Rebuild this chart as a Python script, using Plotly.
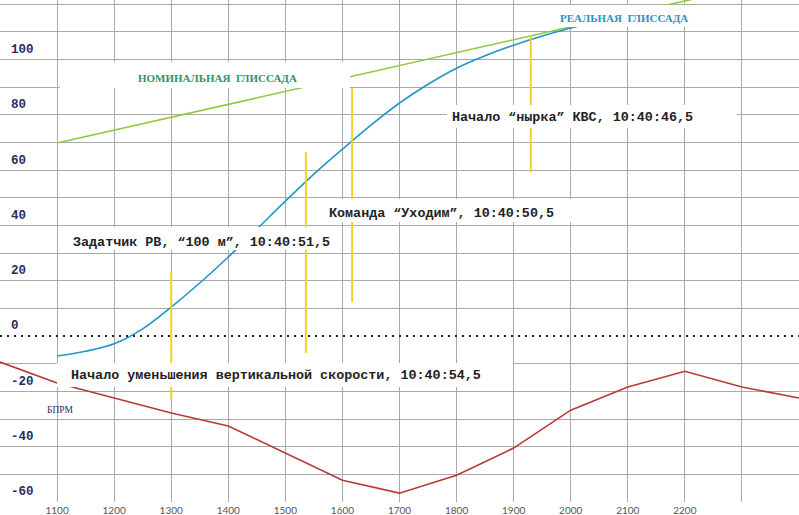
import plotly.graph_objects as go

# ---- data ----
distance = [1100, 1150, 1200, 1250, 1300, 1350, 1400, 1450, 1500, 1550, 1600,
            1650, 1700, 1750, 1800, 1850, 1900, 1950, 2000, 2050]
real_glide = [-7.2, -5.5, -2.8, 2.6, 10.5, 19.2, 28.6, 38.7, 48.8, 58.6, 67.6,
              76.3, 84.3, 91.1, 96.9, 101.4, 105.2, 108.5, 111.4, 113.9]

nominal_x = [1100, 2215]
nominal_y = [69.8, 121.9]

vs_x = [1000, 1100, 1200, 1300, 1400, 1500, 1600, 1700, 1800, 1900, 2000,
        2100, 2200, 2300, 2400]
vs_y = [-9.4, -17.0, -22.4, -27.8, -32.5, -42.3, -52.1, -56.8, -50.3, -40.5,
        -26.8, -18.4, -12.7, -18.4, -22.4]

event_x = [1300, 1536, 1617, 1930]
event_top = [23.1, 66.5, 89.7, 108.9]
event_bottom = [-23.1, -6.1, 12.3, 59.3]

x_ticks = [1100, 1200, 1300, 1400, 1500, 1600, 1700, 1800, 1900, 2000, 2100, 2200, 2300]
x_labels = ["1100", "1200", "1300", "1400", "1500", "1600", "1700", "1800",
            "1900", "2000", "2100", "2200", ""]
y_ticks = [-60, -40, -20, 0, 20, 40, 60, 80, 100]
y_labels = ["-60", "-40", "-20", "0", "20", "40", "60", "80", "100"]
y_grid = [-50, -40, -30, -20, -10, 10, 20, 30, 40, 50, 60, 70, 80, 90, 100, 110, 120]

W, H_PLOT = 799, 502


def px_x(px):
    return px / W


def px_y(py):
    return 1 - py / H_PLOT


fig = go.Figure()

fig.add_trace(go.Scatter(x=nominal_x, y=nominal_y, mode="lines",
                         line=dict(color="#92c83e", width=1.6)))
fig.add_trace(go.Scatter(x=vs_x, y=vs_y, mode="lines",
                         line=dict(color="#b83a34", width=1.6)))
fig.add_trace(go.Scatter(x=distance, y=real_glide, mode="lines",
                         line=dict(color="#2196c8", width=1.6, shape="spline")))
for ex, top, bot in zip(event_x, event_top, event_bottom):
    fig.add_trace(go.Scatter(x=[ex, ex], y=[bot, top], mode="lines",
                             line=dict(color="#f0d12c", width=2)))

# dotted zero line
fig.add_shape(type="line", xref="paper", x0=0, x1=1, yref="y", y0=0, y1=0,
              line=dict(color="#222222", width=2, dash="2px,5px"), layer="above")

# white label backgrounds
boxes = [(60, 62, 350, 88), (552, 5, 695, 27), (447, 105, 737, 128),
         (318, 199, 578, 222), (58, 227, 333, 250), (57, 363, 513, 387)]
for x0, y0, x1, y1 in boxes:
    fig.add_shape(type="rect", xref="paper", yref="paper",
                  x0=px_x(x0), x1=px_x(x1), y0=px_y(y1), y1=px_y(y0),
                  fillcolor="white", line=dict(width=0), layer="above")

mono = dict(family="Courier New, Liberation Mono, monospace", size=13.4,
            color="#222222", weight="bold")
serif_caps = dict(family="Liberation Serif, DejaVu Serif, serif", size=11, weight="bold")

labels = [
    ("НОМИНАЛЬНАЯ\u00a0\u00a0ГЛИССАДА", 217, 78, dict(serif_caps, color="#2f9462")),
    ("РЕАЛЬНАЯ\u00a0\u00a0ГЛИССАДА", 624, 18, dict(serif_caps, color="#2f8fc2")),
    ("Начало “нырка” КВС, 10:40:46,5", 572, 117, mono),
    ("Команда “Уходим”, 10:40:50,5", 441, 213, mono),
    ("Задатчик РВ, “100 м”, 10:40:51,5", 201, 242, mono),
    ("Начало уменьшения вертикальной скорости, 10:40:54,5", 276, 375, mono),
    ("БПРМ", 60, 410, dict(family="Liberation Serif, serif", size=9.5, color="#2b2b5e")),
]
for text, cx, cy, font in labels:
    fig.add_annotation(text=text, xref="paper", yref="paper", x=px_x(cx), y=px_y(cy),
                       showarrow=False, xanchor="center", yanchor="middle", font=font)

fig.update_layout(
    width=799,
    height=515,
    margin=dict(l=0, r=0, t=0, b=13),
    plot_bgcolor="white",
    paper_bgcolor="white",
    showlegend=False,
    xaxis=dict(
        range=[1000, 2400],
        tickvals=x_ticks,
        ticktext=x_labels,
        showgrid=True,
        gridcolor="#a9a9a9",
        gridwidth=1,
        zeroline=False,
        ticks="",
        automargin=False,
        ticklabelstandoff=1,
        tickfont=dict(family="Lato, DejaVu Sans, sans-serif", size=10, color="#555555"),
    ),
    yaxis=dict(
        range=[-60, 121.55],
        tickvals=y_ticks,
        ticktext=y_labels,
        showgrid=False,
        zeroline=False,
        ticks="",
        automargin=False,
        ticklabelposition="inside",
        ticklabelstandoff=8,
        ticklabelshift=-11,
        tickfont=dict(family="Courier New, Liberation Mono, monospace", size=12.5,
                      color="#2b2b5e", weight="bold"),
        minor=dict(tickvals=y_grid, showgrid=True, gridcolor="#a9a9a9", gridwidth=1, ticks=""),
    ),
)

# the page body has a default margin; remove it so the figure fills the window
fig.write_html("out.html", config={"displayModeBar": False},
               post_script="document.body.style.margin='0';")
